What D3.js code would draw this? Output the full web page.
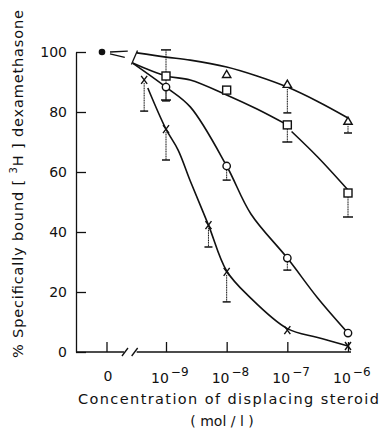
<!DOCTYPE html>
<html><head><meta charset="utf-8">
<script src="https://cdn.jsdelivr.net/npm/d3@7/dist/d3.min.js"></script>
<style>body{margin:0;background:#fff}svg{display:block}text{font-family:"DejaVu Sans",sans-serif;fill:#111}</style>
</head><body><svg id="c" width="381" height="435"></svg>
<script>
// ---- data (x = log10 of concentration, y = % bound) ----
const xTickExp = [-9, -8, -7, -6];
const yTicks = [0, 20, 40, 60, 80, 100];
const controlPoint = [{v: 100}];
// markers and lower / upper error limits
const triX = [-8, -7, -6];                  const triY = [92.3, 89, 76.7];     const triLo = [null, 79.7, 73];
const sqX = [-9, -8, -7, -6];               const sqY = [92, 87.3, 75.7, 53];  const sqLo = [84, null, 70, 45]; const sqHi = [100.7, null, null, null];
const cirX = [-9, -8, -7, -6];              const cirY = [88.3, 62, 31.3, 6.3]; const cirLo = [83.7, 57.3, 27.3, null];
const crsX = [-9.36, -9, -8.3, -8, -7, -6]; const crsY = [90.7, 74.3, 42.3, 26.7, 7.3, 2]; const crsLo = [80.3, 64, 35, 16.7, null, null];
// fitted curves
const triFitX = [-9.48, -9, -8.6, -8, -7.5, -7, -6.5, -6];   const triFitY = [99.7, 98.3, 97.3, 95, 92, 88.3, 83.5, 78];
const sqFitX = [-9.55, -9, -8.6, -8, -7.5, -7];              const sqFitY = [96.3, 92, 90.7, 85.7, 81, 75.7];
const sqFit2X = [-6.93, -6.5, -6];                           const sqFit2Y = [73.5, 65, 54];
const cirFitX = [-9.55, -9, -8.6, -8, -7.6, -7, -6.5, -6];   const cirFitY = [96.3, 88.3, 81.7, 62, 46, 31.3, 18, 6.3];
const crsFitX = [-9.3, -9, -8.8, -8.6, -8.3, -8, -7.62, -7, -6.5, -6];
const crsFitY = [88, 74.3, 67.3, 57, 42.3, 27, 18.3, 7.8, 4.8, 2];

const svg = d3.select("#c");
const xLog = d3.scaleLinear().domain([-9, -6]).range([166, 348]);
const xZero = 107;
const y = d3.scaleLinear().domain([0, 100]).range([352, 52]);

// y axis
const yAx = svg.append("g").attr("transform", "translate(76,0)")
  .call(d3.axisLeft(y).tickValues(yTicks).tickSizeInner(-10).tickSizeOuter(0).tickPadding(9));
yAx.selectAll("path,line").attr("stroke", "#111").attr("stroke-width", 1.3);
yAx.selectAll("text").style("font-size", "14px").attr("dy", "0.35em").style("font-family", "DejaVu Sans");

// x axis line with break
const brk = [-9.66, -9.5];
const g = svg.append("g").attr("stroke", "#111").attr("stroke-width", 1.3).attr("fill", "none");
g.append("line").attr("x1", 76).attr("x2", xLog(brk[0]) - 2).attr("y1", y(0)).attr("y2", y(0));
g.append("line").attr("x1", xLog(brk[1]) + 1).attr("x2", xLog(-6) + 3).attr("y1", y(0)).attr("y2", y(0));
brk.forEach(b => g.append("line").attr("x1", xLog(b) - 4).attr("x2", xLog(b) + 2).attr("y1", y(0) + 4).attr("y2", y(0) - 4));
// x ticks
const xAx = svg.append("g").attr("transform", `translate(0,${y(0)})`)
  .call(d3.axisBottom(xLog).tickValues(xTickExp).tickSizeInner(-10).tickSizeOuter(0).tickFormat(""));
xAx.select(".domain").remove();
xAx.selectAll("line").attr("stroke", "#111").attr("stroke-width", 1.3);
g.append("line").attr("x1", xZero).attr("x2", xZero).attr("y1", y(0)).attr("y2", y(0) - 10);
// x tick labels
svg.append("text").attr("x", xZero + 1).attr("y", 381).attr("text-anchor", "middle").style("font-size", "14px").text("0");
xTickExp.forEach(e => {
  const t = svg.append("text").attr("x", xLog(e) - 15).attr("y", 383).style("font-size", "14px");
  t.append("tspan").text("10");
  t.append("tspan").attr("dy", -7).attr("dx", 2).style("font-size", "12px").text("−" + (-e));
});
// axis titles
svg.append("text").attr("x", 78).attr("y", 404).attr("textLength", 301).attr("lengthAdjust", "spacing")
  .style("font-size", "14.5px").text("Concentration of displacing steroid");
svg.append("text").attr("x", 222).attr("y", 426).attr("text-anchor", "middle").style("font-size", "14px").text("( mol / l )");
const yl = svg.append("text").attr("transform", "translate(23,358) rotate(-90)").attr("textLength", 348)
  .attr("lengthAdjust", "spacing").style("font-size", "14.5px");
yl.append("tspan").text("% Specifically  bound [ ");
yl.append("tspan").attr("dy", -6).style("font-size", "10px").text("3");
yl.append("tspan").attr("dy", 6).text("H ] dexamethasone");

// curves
const line = d3.line().x(d => xLog(d[0])).y(d => y(d[1])).curve(d3.curveCatmullRom.alpha(0.5));
const cg = svg.append("g").attr("fill", "none").attr("stroke", "#111").attr("stroke-width", 1.6);
[[triFitX, triFitY], [sqFitX, sqFitY], [sqFit2X, sqFit2Y], [cirFitX, cirFitY], [crsFitX, crsFitY]]
  .forEach(([xs, ys]) => cg.append("path").attr("d", line(xs.map((x, i) => [x, ys[i]]))));
// wedge from control point to break
const wx0 = xZero + 3, wx1 = xLog(-9.63);
cg.append("path").attr("d", `M${wx0},${y(100)}L${wx1},${y(100.3)}M${wx0},${y(99.4)}L${wx1 - 3},${y(98.2)}`).attr("stroke-width", 1.3);
cg.append("line").attr("x1", xLog(-9.57)).attr("y1", y(95.8)).attr("x2", xLog(-9.47)).attr("y2", y(100.5)).attr("stroke-width", 1.3);

// control point
svg.selectAll(".ctl").data(controlPoint).join("circle").attr("cx", xZero - 5).attr("cy", d => y(d.v)).attr("r", 3.3).attr("fill", "#111");

// error bars
const eg = svg.append("g").attr("stroke", "#111").attr("stroke-width", 1).attr("fill", "none");
function bars(xs, ys, lo, hi, cap, off) {
  xs.forEach((x, i) => {
    const px = xLog(x);
    [lo[i], hi ? hi[i] : null].forEach(v => {
      if (v == null) return;
      eg.append("line").attr("x1", px).attr("x2", px).attr("y1", y(ys[i]) + (v < ys[i] ? off : -off)).attr("y2", y(v)).attr("stroke-dasharray", "1.2,0.5");
      eg.append("line").attr("x1", px - cap).attr("x2", px + cap).attr("y1", y(v)).attr("y2", y(v)).attr("stroke-width", 1.5);
    });
  });
}
bars(triX, triY, triLo, null, 4, 4);
bars(sqX, sqY, sqLo, sqHi, 5, 4);
bars(cirX, cirY, cirLo, null, 4, 4);
bars(crsX, crsY, crsLo, null, 4, 3);

// markers
const mg = svg.append("g").attr("fill", "#fff").attr("stroke", "#111").attr("stroke-width", 1.4);
const tri = d3.symbol().type(d3.symbolTriangle).size(30);
triX.forEach((x, i) => mg.append("path").attr("d", tri()).attr("transform", `translate(${xLog(x)},${y(triY[i])})`));
sqX.forEach((x, i) => mg.append("rect").attr("x", xLog(x) - 4).attr("y", y(sqY[i]) - 4).attr("width", 8).attr("height", 8));
cirX.forEach((x, i) => mg.append("circle").attr("cx", xLog(x)).attr("cy", y(cirY[i])).attr("r", 3.7));
crsX.forEach((x, i) => {
  const px = xLog(x), py = y(crsY[i]);
  mg.append("path").attr("fill", "none").attr("d", `M${px - 3},${py - 4}L${px + 3},${py + 4}M${px + 3},${py - 4}L${px - 3},${py + 4}`);
});
</script></body></html>
